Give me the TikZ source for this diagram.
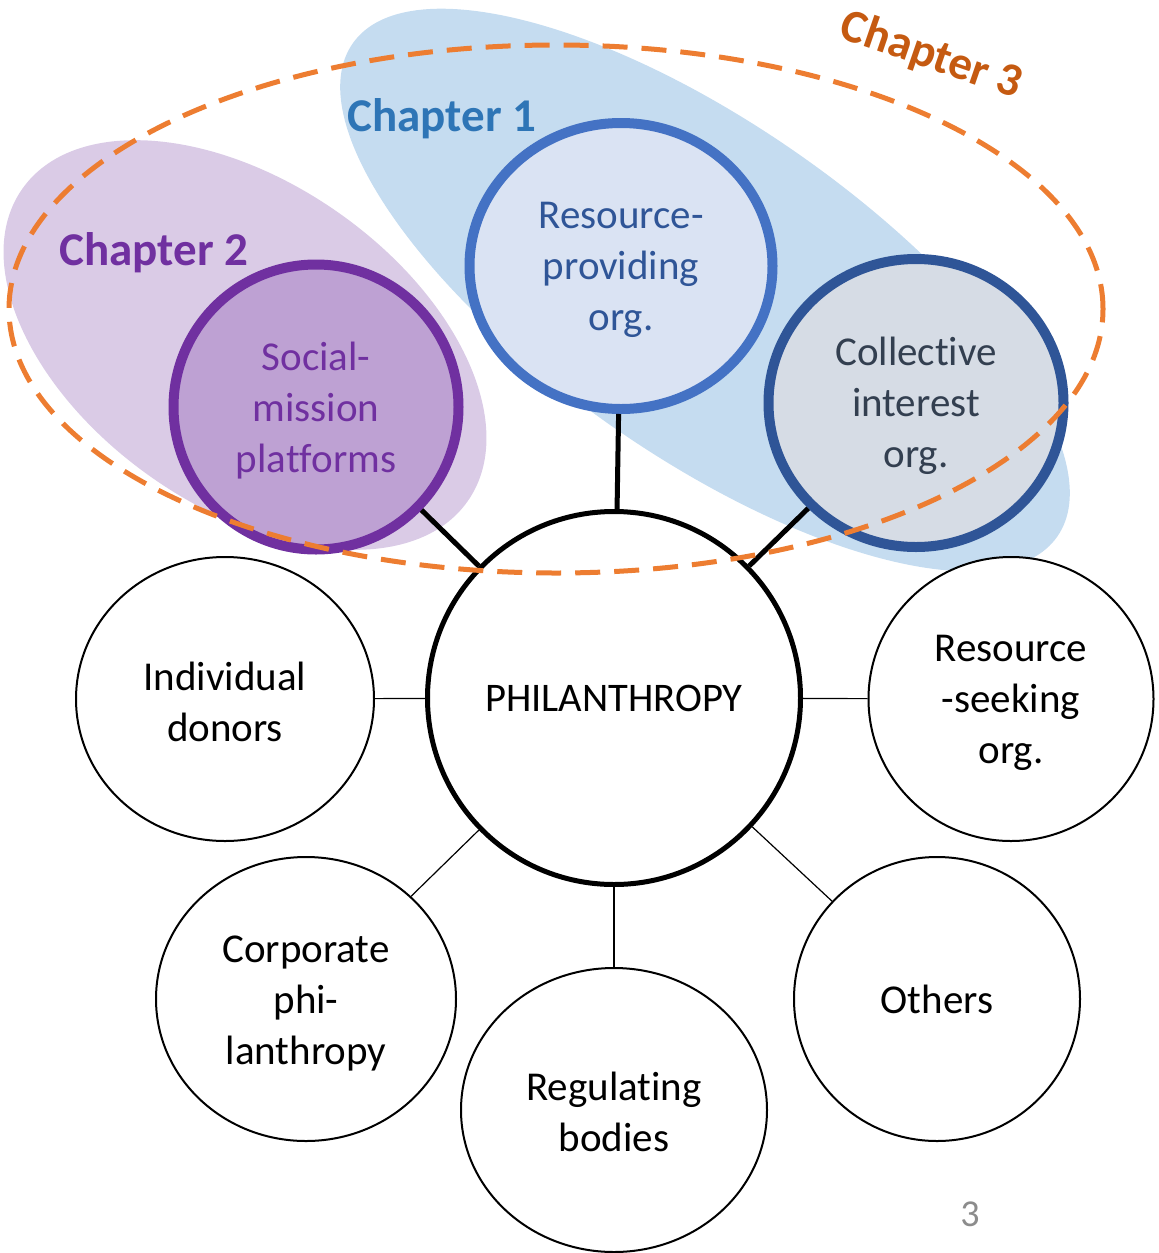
\documentclass[tikz,border=0pt]{standalone}
\usepackage{fontspec}
\setmainfont{Carlito}[Ligatures={NoCommon}]
\usetikzlibrary{shapes.geometric}
\definecolor{blueblob}{HTML}{C5DCF0}
\definecolor{purpleblob}{HTML}{DACBE6}
\definecolor{socialfill}{HTML}{BEA1D3}
\definecolor{socialdraw}{HTML}{7030A0}
\definecolor{provfill}{HTML}{DAE3F3}
\definecolor{provdraw}{HTML}{4472C4}
\definecolor{provtext}{HTML}{2F5597}
\definecolor{collfill}{HTML}{D6DCE5}
\definecolor{colldraw}{HTML}{2F5597}
\definecolor{colltext}{HTML}{333F50}
\definecolor{chone}{HTML}{2E75B6}
\definecolor{chthree}{HTML}{C55A11}
\definecolor{orangeline}{HTML}{ED7D31}
\definecolor{pagegray}{HTML}{8C8C8C}
\begin{document}
\begin{tikzpicture}[x=0.5pt,y=-0.5pt,
  txt/.style={font={\fontsize{20.5pt}{25.5pt}\selectfont}, align=center, inner sep=0pt},
  base/.style={ellipse, inner sep=0pt},
  outerbox/.style={base, draw=black, line width=1pt, fill=white},
  chapbox/.style={base, line width=5pt},
  thin/.style={draw=black, line width=0.6pt},
  thick/.style={draw=black, line width=2.5pt},
  chaplabel/.style={font={\fontsize{23.5pt}{28pt}\selectfont\bfseries}, anchor=base, inner sep=0pt}
]
\useasboundingbox (0,0) rectangle (1158,1253);
% background blobs
\fill[blueblob, rotate around={-35:(705,290)}] (705,290) ellipse [x radius=215pt, y radius=82.5pt];
\fill[purpleblob, rotate around={-35:(245,345)}] (245,345) ellipse [x radius=136pt, y radius=81pt];

% chapter circles
\node[chapbox, draw=socialdraw, fill=socialfill, minimum width=142.5pt, minimum height=142.5pt] (social) at (316,407) {};
\node[txt, text=socialdraw] (social-t) at ([yshift=-2pt]social.center) {Social-\\mission\\platforms};
\node[chapbox, draw=provdraw, fill=provfill, minimum width=151.5pt, minimum height=143pt] (prov) at (621,266) {};
\node[txt, text=provtext] (prov-t) at ([yshift=-2pt]prov.center) {Resource-\\providing\\org.};
\node[chapbox, draw=colldraw, fill=collfill, minimum width=147.5pt, minimum height=144pt] (coll) at (916,403) {};
\node[txt, text=colltext] (coll-t) at ([yshift=-1.5pt]coll.center) {Collective\\interest\\org.};

% central node
\node[base, draw=black, line width=2.5pt, fill=white, minimum width=186.5pt, minimum height=186.5pt, font={\fontsize{20.3pt}{24pt}\selectfont}] (phil) at (614,698) {PHILANTHROPY};

% outer nodes
\node[outerbox, minimum width=149pt, minimum height=142pt] (ind) at (225,699) {};
\node[txt] (ind-t) at ([yshift=-1.5pt]ind.center) {Individual\\donors};
\node[outerbox, minimum width=142.5pt, minimum height=142pt] (seek) at (1011,699) {};
\node[txt] (seek-t) at ([yshift=-2pt]seek.center) {Resource\\-seeking\\org.};
\node[outerbox, minimum width=150pt, minimum height=142pt] (corp) at (306,999) {};
\node[txt] (corp-t) at ([yshift=-2pt]corp.center) {Corporate\\phi-\\lanthropy};
\node[outerbox, minimum width=153pt, minimum height=142pt] (reg) at (614,1110) {};
\node[txt] (reg-t) at ([yshift=-1pt]reg.center) {Regulating\\bodies};
\node[outerbox, minimum width=143pt, minimum height=142pt] (oth) at (937,999) {};
\node[txt] (oth-t) at (oth.center) {Others};

% connectors
\draw[thin] (ind) -- (phil);
\draw[thin] (seek) -- (phil);
\draw[thin] (corp) -- (phil);
\draw[thin] (reg) -- (phil);
\draw[thin] (oth) -- (phil);
\draw[thick] (social) -- (phil);
\draw[thick] (prov) -- (phil);
\draw[thick] (coll) -- (phil);

% chapter 3 dashed ellipse
\draw[orangeline, line width=2.5pt, dash pattern=on 12.5pt off 7pt] (556,309) ellipse [x radius=273.5pt, y radius=132pt];

% chapter labels
\node[chaplabel, text=chone] (c1) at (442,131) {Chapter 1};
\node[chaplabel, text=socialdraw] (c2) at (154,265) {Chapter 2};
\node[chaplabel, text=chthree, rotate=-19] (c3) at (927,68) {Chapter 3};

% page number
\node[font={\fontsize{19pt}{22pt}\selectfont}, text=pagegray] (pg) at (970,1214) {3};
\end{tikzpicture}
\end{document}
